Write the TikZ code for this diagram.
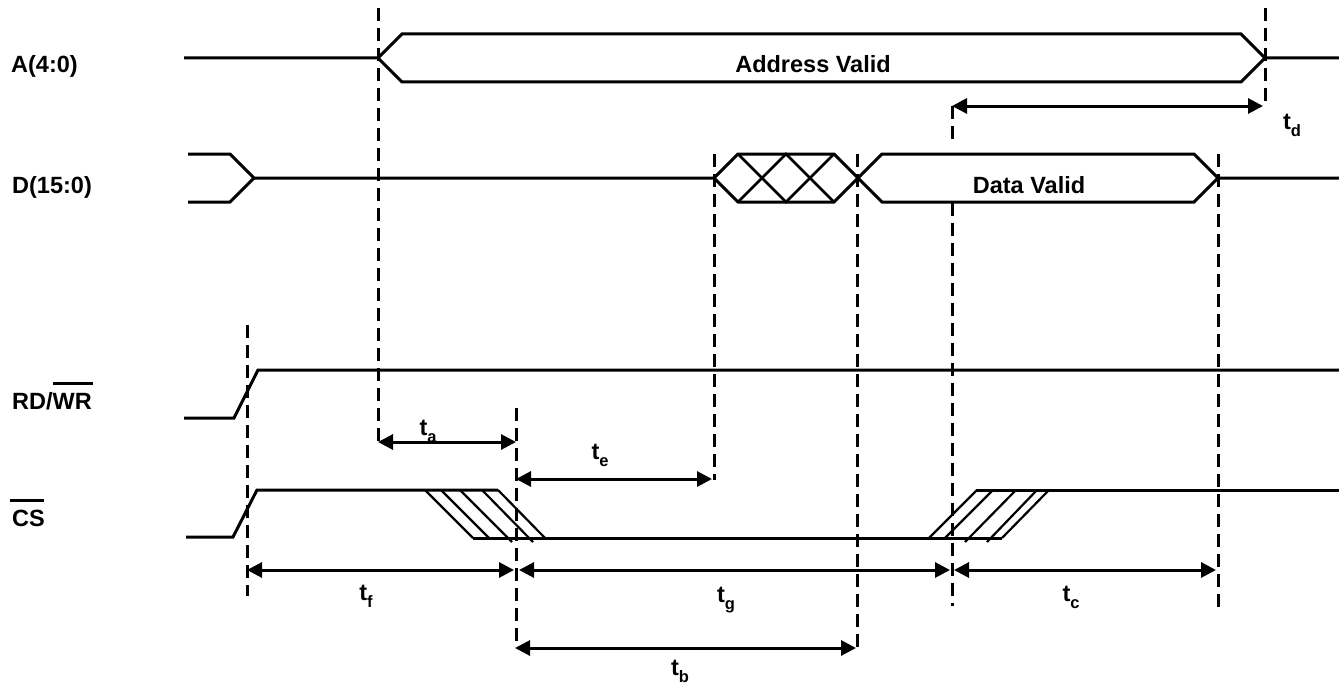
\documentclass[tikz,border=0pt]{standalone}
\usepackage{fontspec}
\setmainfont{Liberation Sans}
\usetikzlibrary{arrows.meta}
\tikzset{
  x=1pt,y=-1pt,
  sig/.style={line width=3pt,line join=miter},
  thin sig/.style={line width=2.6pt},
  hatch/.style={line width=2.2pt},
  guide/.style={line width=3pt,dash pattern=on 13pt off 7pt},
  span/.style={line width=3pt,{Triangle[length=15pt,width=15pt]}-{Triangle[length=15pt,width=15pt]},shorten <=0pt,shorten >=2pt},
  lab/.style={font=\fontsize{23.5}{26}\selectfont\bfseries,inner sep=0pt,anchor=base west},
  tlab/.style={font=\fontsize{23.5}{26}\selectfont\bfseries,inner sep=0pt}
}
\newcommand{\tsub}[1]{t\raisebox{-0.3em}{\fontsize{16.5}{18}\selectfont #1}}
\begin{document}
\begin{tikzpicture}
\useasboundingbox (0,0) rectangle (1339,685);
% signal labels
\node[lab] (la) at (11,73) {A(4:0)};
\node[lab] (ld) at (12,193) {D(15:0)};
\node[lab] (lr) at (12,409) {RD/\rlap{\raisebox{24.5pt}{\rule{40pt}{3pt}}}WR};
\node[lab] (lc) at (12,526) {\hspace*{-2pt}\rlap{\raisebox{24pt}{\rule{34pt}{3pt}}}\hspace*{2pt}CS};
% A bus
\draw[sig] (184,58) -- (378,58) -- (402,34) -- (1241,34) -- (1265,58) -- (1339,58);
\draw[sig] (378,58) -- (402,82) -- (1241,82) -- (1265,58);
\node[tlab] (addr) at (813,64) {Address Valid};
% D bus
\draw[sig] (188,154) -- (230,154) -- (254,178) -- (714,178) -- (738,154) -- (834,154) -- (882,202) -- (1194,202) -- (1218,178) -- (1339,178);
\draw[sig] (188,202) -- (230,202) -- (254,178);
\draw[sig] (714,178) -- (738,202) -- (834,202) -- (882,154) -- (1194,154) -- (1218,178);
\draw[thin sig] (738,154) -- (786,202) -- (834,154);
\draw[thin sig] (738,202) -- (786,154) -- (834,202);
\node[tlab] (dv) at (1029,185) {Data Valid};
% RD/WR
\draw[sig] (184,418) -- (234,418) -- (258,370) -- (1339,370);
% CS
\draw[sig] (186,537) -- (233,537) -- (257,490) -- (498,490);
\draw[sig] (473,538) -- (1002,538);
\draw[sig] (976,490) -- (1339,490);
\draw[hatch] (425,490) -- (473,538);
\draw[hatch] (441,490) -- (489,538);
\draw[hatch] (460,490) -- (512,542);
\draw[hatch] (482,490) -- (533,542);
\draw[hatch] (498,490) -- (545,538);
\draw[hatch] (929,538) -- (977,490);
\draw[hatch] (945,538) -- (993,490);
\draw[hatch] (965,542) -- (1016,490);
\draw[hatch] (987,542) -- (1037,490);
\draw[hatch] (1002,538) -- (1049,490);
% guide ends
\coordinate (g1t) at (378,8);   \coordinate (g1b) at (378,441);
\coordinate (g2t) at (1265,8);  \coordinate (g2b) at (1265,106);
\coordinate (g3t) at (952,106); \coordinate (g3m) at (952,146);
\coordinate (g3n) at (952,203); \coordinate (g3b) at (952,606);
\coordinate (g4t) at (714,154); \coordinate (g4b) at (714,480);
\coordinate (g5t) at (857,154); \coordinate (g5b) at (857,652);
\coordinate (g6t) at (1218,154);\coordinate (g6b) at (1218,610);
\coordinate (g7t) at (247,325); \coordinate (g7b) at (247,596);
\coordinate (g8t) at (516,408); \coordinate (g8b) at (516,648);
\draw[guide] (g1t) -- (g1b);
\draw[guide] (g2t) -- (g2b);
\draw[guide] (g3t) -- (g3m);
\draw[guide] (g3n) -- (g3b);
\draw[guide] (g4t) -- (g4b);
\draw[guide] (g5t) -- (g5b);
\draw[guide] (g6t) -- (g6b);
\draw[guide] (g7t) -- (g7b);
\draw[guide] (g8t) -- (g8b);
% spans
\coordinate (ta1) at (378,442); \coordinate (ta2) at (518,442);
\coordinate (te1) at (516,479); \coordinate (te2) at (714,479);
\coordinate (tf1) at (247,570); \coordinate (tf2) at (516,570);
\coordinate (tg1) at (519,570); \coordinate (tg2) at (952,570);
\coordinate (tc1) at (954,570); \coordinate (tc2) at (1218,570);
\coordinate (tb1) at (515,648); \coordinate (tb2) at (858,648);
\coordinate (td1) at (952,106); \coordinate (td2) at (1265,106);
\draw[span] (ta1) -- (ta2);
\draw[span] (te1) -- (te2);
\draw[span] (tf1) -- (tf2);
\draw[span] (tg1) -- (tg2);
\draw[span] (tc1) -- (tc2);
\draw[span] (tb1) -- (tb2);
\draw[span] (td1) -- (td2);
% timing labels
\node[tlab] (nta) at (428,431) {\tsub{a}};
\node[tlab] (nte) at (600,455) {\tsub{e}};
\node[tlab] (ntf) at (366,596) {\tsub{f}};
\node[tlab] (ntg) at (726,600) {\tsub{g}};
\node[tlab] (ntc) at (1071,597) {\tsub{c}};
\node[tlab] (ntd) at (1292,125) {\tsub{d}};
\node[tlab] (ntb) at (680,671) {\tsub{b}};
\end{tikzpicture}
\end{document}
